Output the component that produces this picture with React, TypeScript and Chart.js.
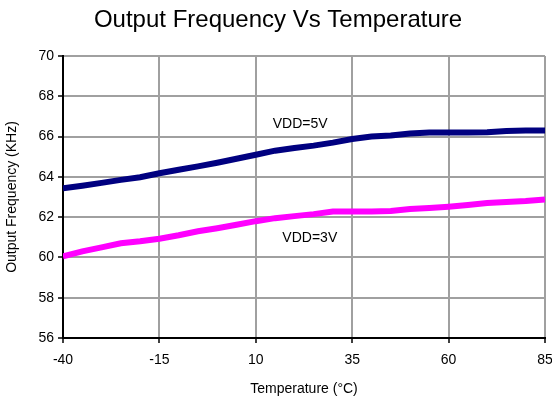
import React, { useEffect, useRef } from "react";
import { Chart, registerables } from "chart.js";

Chart.register(...registerables);

const temps = [-40, -35, -30, -25, -20, -15, -10, -5, 0, 5, 10, 15, 20, 25, 30, 35, 40, 45, 50, 55, 60, 65, 70, 75, 80, 85];
const vdd5 = [63.43, 63.56, 63.7, 63.85, 63.98, 64.18, 64.35, 64.52, 64.7, 64.9, 65.1, 65.3, 65.43, 65.55, 65.7, 65.88, 66.0, 66.05, 66.15, 66.2, 66.2, 66.2, 66.22, 66.28, 66.3, 66.3];
const vdd3 = [60.05, 60.3, 60.5, 60.7, 60.8, 60.93, 61.1, 61.3, 61.45, 61.62, 61.8, 61.95, 62.05, 62.15, 62.28, 62.28, 62.28, 62.3, 62.4, 62.45, 62.52, 62.6, 62.7, 62.75, 62.8, 62.88];
const seriesLabels = ["VDD=5V", "VDD=3V"];
const labelPos = [
  { x: 21.5, y: 66.6 },
  { x: 24, y: 60.95 },
];
const titleText = "Output Frequency Vs Temperature";
const xTitle = "Temperature (°C)";
const yTitle = "Output Frequency (KHz)";

const FONT = "Arial, 'Liberation Sans', sans-serif";

export default function App() {
  const ref = useRef<HTMLCanvasElement>(null);
  useEffect(() => {
    const canvas = ref.current!;
    const extras = {
      id: "extras",
      afterDraw(chart: any) {
        const ctx = chart.ctx;
        ctx.save();
        ctx.fillStyle = "#000";
        ctx.textAlign = "center";
        ctx.textBaseline = "middle";
        ctx.font = `24px ${FONT}`;
        ctx.fillText(titleText, 278, 20);
        ctx.font = `14px ${FONT}`;
        const xs = chart.scales.x, ys = chart.scales.y;
        labelPos.forEach((p, i) => {
          ctx.fillText(seriesLabels[i], xs.getPixelForValue(p.x), ys.getPixelForValue(p.y));
        });
        ctx.restore();
      },
    };
    const chart = new Chart(canvas, {
      type: "line",
      data: {
        datasets: [
          { label: seriesLabels[0], data: temps.map((t, i) => ({ x: t, y: vdd5[i] })), borderColor: "#000080", borderWidth: 6, pointRadius: 0, tension: 0 },
          { label: seriesLabels[1], data: temps.map((t, i) => ({ x: t, y: vdd3[i] })), borderColor: "#FF00FF", borderWidth: 6, pointRadius: 0, tension: 0 },
        ],
      },
      options: {
        animation: false,
        responsive: false,
        layout: { padding: { top: 56, right: 7, left: 0, bottom: 0 } },
        plugins: { legend: { display: false }, tooltip: { enabled: false }, title: { display: false } },
        scales: {
          x: {
            type: "linear",
            min: -40,
            max: 85,
            afterFit: (s: any) => { s.height = 64; s.paddingRight = 0; s.paddingLeft = 0; },
            ticks: { stepSize: 25, color: "#000", font: { family: FONT, size: 14 }, padding: 9, maxRotation: 0 },
            grid: { color: "#a0a0a0", lineWidth: 2, tickColor: "#000", tickLength: 5, tickWidth: 1.5 },
            border: { color: "#000", width: 2 },
            title: { display: true, text: xTitle, color: "#000", font: { family: FONT, size: 14 }, padding: { top: 6 } },
          },
          y: {
            min: 56,
            max: 70,
            afterFit: (s: any) => { s.width = 63; s.paddingTop = 0; s.paddingBottom = 0; },
            ticks: { stepSize: 2, color: "#000", font: { family: FONT, size: 14 }, padding: 4 },
            grid: { color: "#a0a0a0", lineWidth: 2, tickColor: "#000", tickLength: 5, tickWidth: 1.5 },
            border: { color: "#000", width: 2 },
            title: { display: true, text: yTitle, color: "#000", font: { family: FONT, size: 14 }, padding: 4 },
          },
        },
      },
      plugins: [extras],
    });
    return () => chart.destroy();
  }, []);
  return (
    <div style={{ position: "fixed", left: 0, top: 0, width: 552, height: 402, background: "#fff" }}>
      <canvas ref={ref} width={552} height={402} />
    </div>
  );
}
